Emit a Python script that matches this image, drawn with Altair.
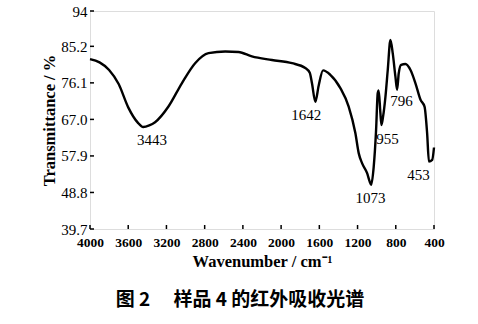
import altair as alt
import pandas as pd

# spectrum trace (wavenumber cm-1, transmittance %)
wavenumber = [4000, 3900, 3800, 3700, 3600, 3500, 3443, 3380, 3319, 3179, 3039, 2900,
              2760, 2585, 2446, 2306, 2096, 1886, 1747, 1700, 1677, 1642, 1607, 1561,
              1485, 1380, 1293, 1223, 1188, 1153, 1100, 1073, 1058, 1031, 1006, 989,
              979, 961, 950, 933, 908, 884, 856, 832, 804, 786, 769, 744, 699, 646,
              594, 541, 499, 472, 453, 419, 400]
transmittance = [82.0, 81.2, 79.3, 75.8, 70.0, 66.2, 65.1, 65.5, 66.3, 70.2, 76.0, 81.0,
                 83.5, 83.9, 83.8, 82.7, 81.8, 81.0, 79.8, 78.6, 76.0, 71.4, 75.4, 79.2,
                 78.1, 74.8, 70.2, 63.6, 58.6, 56.1, 53.6, 51.5, 50.7, 55.2, 64.4, 73.5,
                 74.2, 68.6, 65.6, 67.7, 72.7, 79.3, 86.8, 83.5, 77.7, 74.4, 78.5, 80.6,
                 80.8, 79.3, 76.0, 71.9, 70.2, 63.6, 56.5, 56.9, 60.0]

peak_labels = ["3443", "1642", "1073", "955", "796", "453"]
peak_label_x = [3350, 1736, 1065, 887, 740, 562]
peak_label_y = [61.9, 68.1, 47.4, 62.1, 71.6, 53.2]

y_ticks = [39.7, 48.8, 57.9, 67.0, 76.1, 85.2, 94]
x_ticks = [4000, 3600, 3200, 2800, 2400, 2000, 1600, 1200, 800, 400]

spec = pd.DataFrame({"wn": wavenumber, "t": transmittance, "i": range(len(wavenumber))})
peaks = pd.DataFrame({"label": peak_labels, "wn": peak_label_x, "t": peak_label_y})
yt = pd.DataFrame({"t": y_ticks})
xt = pd.DataFrame({"wn": x_ticks})

SERIF = "Liberation Serif"

xscale = alt.Scale(domain=[4000, 400], nice=False, zero=False)
yscale = alt.Scale(domain=[39.7, 94], nice=False, zero=False)

label_expr = "datum.value == 94 ? '94' : format(datum.value, '.1f')"

xaxis = alt.Axis(values=x_ticks, title="Wavenumber / cm\u207b\u00b9", format="d",
                 ticks=False, domain=False, labelFont=SERIF, labelFontSize=13.5,
                 labelFontWeight="bold", labelFlush=False,
                 labelColor="black", labelPadding=6, labelOverlap=False,
                 titleFont=SERIF, titleFontSize=16.5, titleFontWeight="bold",
                 titleColor="black", titlePadding=5, grid=False)
yaxis = alt.Axis(values=y_ticks, title="Transmittance / %", labelExpr=label_expr,
                 ticks=False, domain=False, labelFont=SERIF, labelFontSize=15,
                 labelColor="black", labelPadding=3, labelOverlap=False, labelFlush=False,
                 titleFont=SERIF, titleFontSize=16.5, titleFontWeight="bold",
                 titleColor="black", titlePadding=3, grid=False)

line = alt.Chart(spec).mark_line(color="black", strokeWidth=2.4, interpolate="monotone").encode(
    x=alt.X("wn:Q", scale=xscale, axis=xaxis),
    y=alt.Y("t:Q", scale=yscale, axis=yaxis),
    order="i:Q",
)

labels = alt.Chart(peaks).mark_text(font=SERIF, fontSize=15, color="black").encode(
    x=alt.X("wn:Q", scale=xscale, axis=xaxis), y=alt.Y("t:Q", scale=yscale, axis=yaxis),
    text="label:N")

ytick_marks = alt.Chart(yt).mark_rule(color="black", strokeWidth=1.5).encode(
    y=alt.Y("t:Q", scale=yscale, axis=yaxis), x=alt.value(0), x2=alt.value(4))
xtick_marks = alt.Chart(xt).mark_rule(color="black", strokeWidth=1.5).encode(
    x=alt.X("wn:Q", scale=xscale, axis=xaxis), y=alt.value(218), y2=alt.value(214))

caption = "图\u00a02\u3000\u00a0样品\u00a04\u00a0的红外吸收光谱"

chart = alt.layer(line, labels, ytick_marks, xtick_marks).properties(
    width=344, height=218,
    autosize=alt.AutoSizeParams(type="none"),
    padding={"left": 90, "top": 11, "right": 44, "bottom": 95},
    title=alt.TitleParams(caption, orient="bottom", anchor="middle",
                          font="Noto Sans CJK SC", fontSize=19, fontWeight="bold",
                          color="black", offset=21, dx=-22),
).configure_view(stroke="black", strokeWidth=2.2).configure(background="white"
).configure_axis(labelOverlap=False)

chart.save("out.html", embed_options={"renderer": "svg", "actions": False})
